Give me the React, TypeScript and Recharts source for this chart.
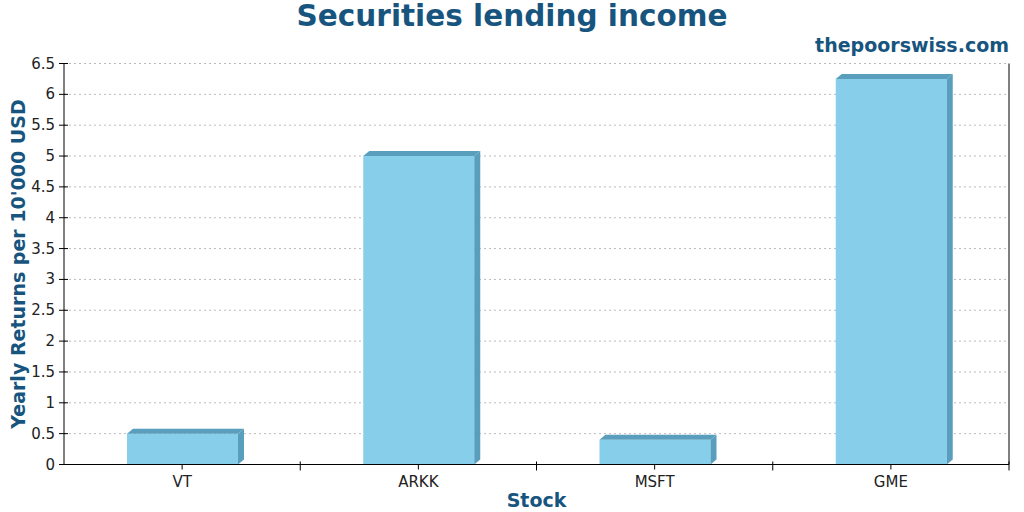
import { Bar, BarChart, CartesianGrid, XAxis, YAxis } from 'recharts'

const CATEGORIES = ['VT', 'ARKK', 'MSFT', 'GME']
const YEARLY_RETURNS = [0.5, 5, 0.4, 6.25]
const Y_TICKS = [0, 0.5, 1, 1.5, 2, 2.5, 3, 3.5, 4, 4.5, 5, 5.5, 6, 6.5]

const FRONT = '#87ceeb'
const SHADE = '#599fbd'
const TITLE_BLUE = '#17557f'
const FONT = '"DejaVu Sans", sans-serif'

const data = CATEGORIES.map((stock, i) => ({ stock, value: YEARLY_RETURNS[i] }))

// bar with a small extruded top and right side
function Bar3D(props: any) {
  const { x, y, width, height } = props
  if (!height) return null
  const dx = 6
  const dy = 5
  return (
    <g>
      <rect x={x} y={y} width={width} height={height} fill={FRONT} />
      <polygon
        points={`${x},${y} ${x + dx},${y - dy} ${x + width + dx},${y - dy} ${x + width},${y}`}
        fill={SHADE}
      />
      <polygon
        points={`${x + width},${y} ${x + width + dx},${y - dy} ${x + width + dx},${y + height - dy} ${x + width},${y + height}`}
        fill={SHADE}
      />
    </g>
  )
}

function XTick(props: any) {
  const { x, y, payload, width, visibleTicksCount } = props
  const half = (width ?? 945) / (visibleTicksCount || CATEGORIES.length) / 2
  return (
    <g>
      <line x1={x} x2={x} y1={y} y2={y + 5} stroke="#000" />
      <line x1={x + half} x2={x + half} y1={y - 3} y2={y + 6} stroke="#000" />
      <text x={x} y={y + 22} textAnchor="middle" fontSize={15} fontFamily={FONT} fill="#222">
        {payload.value}
      </text>
    </g>
  )
}

function YTick(props: any) {
  const { x, y, payload } = props
  return (
    <g>
      <line x1={x - 5} x2={x + 4} y1={y} y2={y} stroke="#000" />
      <text
        x={x - 9}
        y={y}
        textAnchor="end"
        dominantBaseline="central"
        fontSize={15}
        fontFamily={FONT}
        fill="#222"
      >
        {payload.value}
      </text>
    </g>
  )
}

export default function App() {
  return (
    <div style={{ position: 'absolute', left: 0, top: 0, width: 1024, height: 512, background: '#fff' }}>
      <BarChart width={1024} height={512} data={data} margin={{ top: 63.5, right: 0, bottom: 0, left: 0 }}>
        <CartesianGrid vertical={false} stroke="#bbb" strokeDasharray="2 3" />
        <XAxis
          dataKey="stock"
          height={47.5}
          tickSize={0}
          tickMargin={0}
          tickLine={false}
          axisLine={{ stroke: '#000' }}
          tick={<XTick />}
          label={{
            content: ({ viewBox }: any) => (
              <text
                x={viewBox.x + viewBox.width / 2}
                y={viewBox.y + 42}
                textAnchor="middle"
                fontSize={19}
                fontWeight="bold"
                fontFamily={FONT}
                fill={TITLE_BLUE}
              >
                Stock
              </text>
            ),
          }}
        />
        <YAxis
          width={64}
          domain={[0, 6.5]}
          ticks={Y_TICKS}
          interval={0}
          tickSize={0}
          tickMargin={0}
          tickLine={false}
          axisLine={{ stroke: '#000' }}
          tick={<YTick />}
          label={{
            content: ({ viewBox }: any) => {
              const cx = 18
              const cy = viewBox.y + viewBox.height / 2
              return (
                <text
                  x={cx}
                  y={cy}
                  transform={`rotate(-90 ${cx} ${cy})`}
                  textAnchor="middle"
                  dominantBaseline="central"
                  fontSize={19}
                  fontWeight="bold"
                  fontFamily={FONT}
                  fill={TITLE_BLUE}
                >
                  Yearly Returns per 10'000 USD
                </text>
              )
            },
          }}
        />
        <YAxis
          yAxisId="right"
          orientation="right"
          width={15}
          domain={[0, 6.5]}
          tick={false}
          tickLine={false}
          axisLine={{ stroke: '#000' }}
        />
        <Bar dataKey="value" barSize={111} shape={<Bar3D />} isAnimationActive={false} />
      </BarChart>
      <svg
        width={1024}
        height={512}
        style={{ position: 'absolute', left: 0, top: 0, pointerEvents: 'none' }}
      >
        <text x={512} y={26} textAnchor="middle" fontSize={29.5} fontWeight="bold" fontFamily={FONT} fill={TITLE_BLUE}>
          Securities lending income
        </text>
        <text x={1009} y={52} textAnchor="end" fontSize={19} fontWeight="bold" fontFamily={FONT} fill={TITLE_BLUE}>
          thepoorswiss.com
        </text>
      </svg>
    </div>
  )
}
